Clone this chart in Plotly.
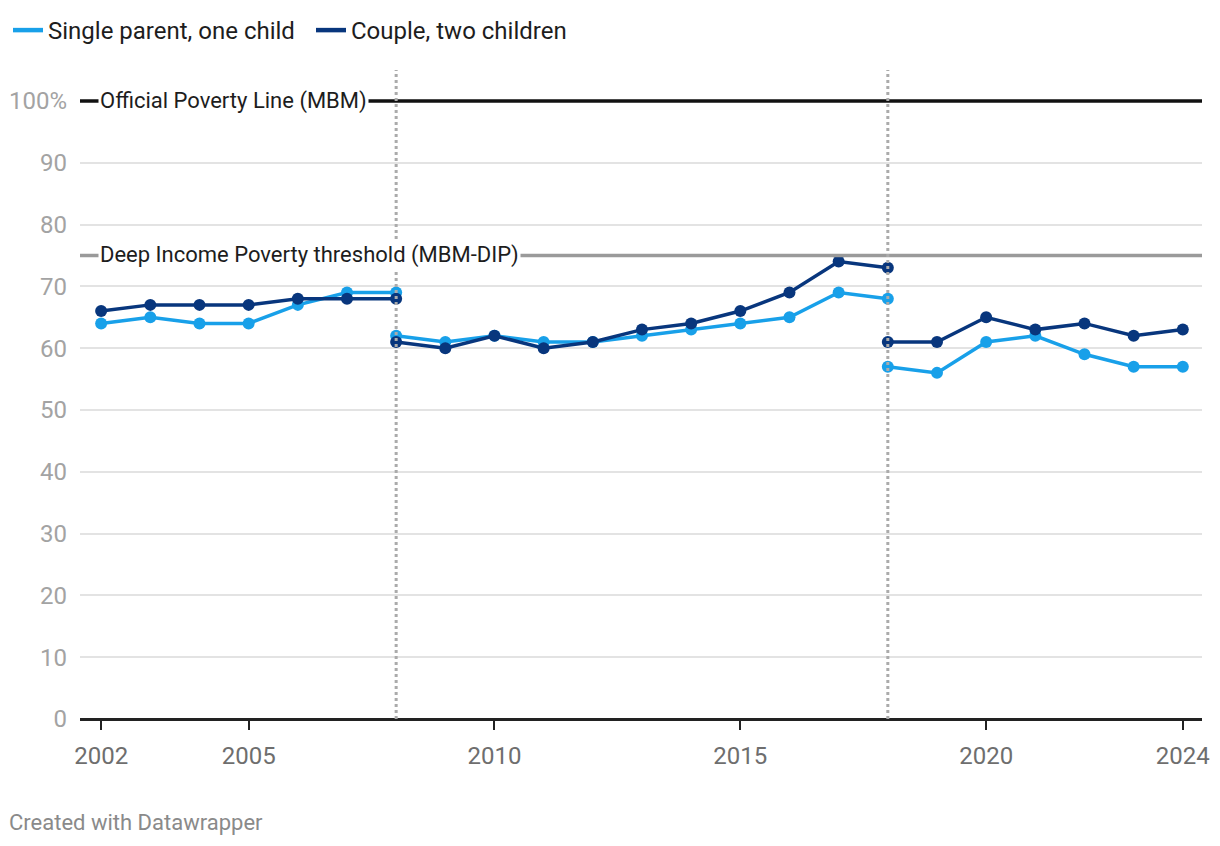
import plotly.graph_objects as go

# Data (None separates methodological breaks)
years = [2002, 2003, 2004, 2005, 2006, 2007, 2008, None,
         2008, 2009, 2010, 2011, 2012, 2013, 2014, 2015, 2016, 2017, 2018, None,
         2018, 2019, 2020, 2021, 2022, 2023, 2024]
single_parent = [64, 65, 64, 64, 67, 69, 69, None,
                 62, 61, 62, 61, 61, 62, 63, 64, 65, 69, 68, None,
                 57, 56, 61, 62, 59, 57, 57]
couple = [66, 67, 67, 67, 68, 68, 68, None,
          61, 60, 62, 60, 61, 63, 64, 66, 69, 74, 73, None,
          61, 61, 65, 63, 64, 62, 63]

series_names = ["Single parent, one child", "Couple, two children"]
colors = ["#18a0e9", "#08367d"]

y_ticks = [0, 10, 20, 30, 40, 50, 60, 70, 80, 90, 100]
y_tick_text = ["0", "10", "20", "30", "40", "50", "60", "70", "80", "90", "100%"]
x_ticks = [2002, 2005, 2010, 2015, 2020, 2024]

break_years = [2008, 2018]
official_line = 100
deep_line = 75

W, H = 1212, 838
ML, MR, MT, MB = 72, 18, 62, 127

fig = go.Figure()

for name, vals, c in zip(series_names, [single_parent, couple], colors):
    fig.add_trace(go.Scatter(
        x=years, y=vals, mode="lines+markers", name=name,
        line=dict(color=c, width=3.5), marker=dict(color=c, size=12),
        connectgaps=False, showlegend=False, hoverinfo="x+y"))

for name, c in zip(series_names, colors):
    fig.add_trace(go.Scatter(
        x=[None], y=[None], mode="lines", name=name,
        line=dict(color=c, width=4.5), showlegend=True))

shapes = []
shapes.append(dict(type="line", xref="paper", yref="y", x0=0, x1=1,
                   y0=official_line, y1=official_line,
                   line=dict(color="#111111", width=3.5), layer="above"))
shapes.append(dict(type="line", xref="paper", yref="y", x0=0, x1=1,
                   y0=deep_line, y1=deep_line,
                   line=dict(color="#9a9a9a", width=3.5), layer="above"))
for by in break_years:
    shapes.append(dict(type="line", xref="x", yref="paper", x0=by, x1=by,
                       y0=0, y1=1, line=dict(color="#ababab", width=3, dash="dot"),
                       layer="above"))

pw = W - ML - MR
ph = H - MT - MB
annotations = [
    dict(x=2002, y=official_line, xref="x", yref="y", xanchor="left", yanchor="middle",
         text="Official Poverty Line (MBM)", showarrow=False,
         font=dict(family="Roboto", size=22, color="#1d1d1d"),
         bgcolor="white", borderpad=1, xshift=-3),
    dict(x=2002, y=deep_line, xref="x", yref="y", xanchor="left", yanchor="middle",
         text="Deep Income Poverty threshold (MBM-DIP)", showarrow=False,
         font=dict(family="Roboto", size=22, color="#1d1d1d"),
         bgcolor="white", borderpad=1, xshift=-3),
    dict(x=(-1 - ML) / pw, y=(H - MB - 814) / ph, xref="paper", yref="paper",
         xanchor="left", yanchor="middle",
         text="Created with Datawrapper", showarrow=False,
         font=dict(family="Roboto", size=22, color="#8a8a8a")),
]

fig.update_layout(
    width=W, height=H,
    margin=dict(l=ML, r=MR, t=MT, b=MB, autoexpand=False),
    paper_bgcolor="white", plot_bgcolor="white",
    font=dict(family="Roboto", color="#333"),
    shapes=shapes, annotations=annotations,
    legend=dict(orientation="h", x=-0.004, y=1.0, xanchor="left", yanchor="top",
                xref="container", yref="container",
                font=dict(family="Roboto", size=24, color="#1d1d1d"),
                itemwidth=30, tracegroupgap=0,
                entrywidth=258, entrywidthmode="pixels"),
    showlegend=True,
)

fig.update_xaxes(
    range=[2001.57, 2024.39], tickvals=x_ticks, ticks="outside", ticklen=10,
    tickwidth=2, tickcolor="#222", showgrid=False, zeroline=False,
    showline=False, tickfont=dict(family="Roboto", size=24, color="#6e6e6e"),
    ticklabelstandoff=5, automargin=False)

fig.update_yaxes(
    range=[0, 105], tickvals=y_ticks, ticktext=y_tick_text, showgrid=True,
    gridcolor="#e3e3e3", gridwidth=1.5, zeroline=True, zerolinecolor="#222",
    zerolinewidth=3, ticks="", showline=False,
    tickfont=dict(family="Roboto", size=24, color="#a3a3a3"),
    ticklabelstandoff=12, automargin=False)

fig.write_html("out.html")
